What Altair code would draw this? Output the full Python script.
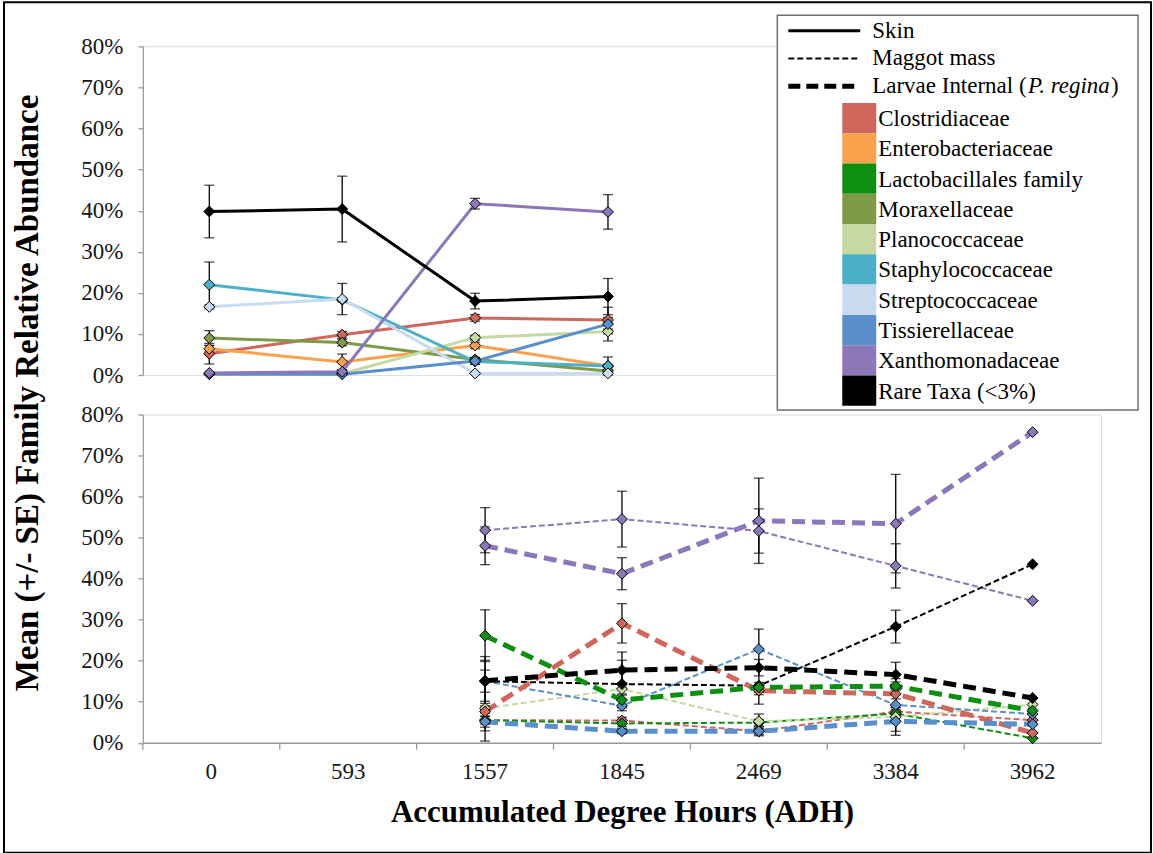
import altair as alt
import pandas as pd

# Accumulated degree hours (x categories)
ADH = ["0", "593", "1557", "1845", "2469", "3384", "3962"]
SKIN_ADH = ["0", "593", "1557", "1845"]
MASS_ADH = ["1557", "1845", "2469", "3384", "3962"]

FAMILIES = [
    "Clostridiaceae", "Enterobacteriaceae", "Lactobacillales family", "Moraxellaceae",
    "Planococcaceae", "Staphylococcaceae", "Streptococcaceae", "Tissierellaceae",
    "Xanthomonadaceae", "Rare Taxa (<3%)",
]
FAMILY_COLORS = [
    "#CF675D", "#F9A24E", "#0E8F12", "#7E9A48", "#C6D9A3",
    "#4CB0C9", "#C8DBF0", "#5A8FCB", "#8C77B8", "#000000",
]

# Skin: mean and SE (%) at 0, 593, 1557, 1845 ADH
skin_clostridiaceae = [5.2, 9.8, 13.9, 13.4]
skin_clostridiaceae_se = [2.5, 0.8, 0.8, 0.6]
skin_enterobacteriaceae = [6.4, 3.2, 7.2, 2.2]
skin_enterobacteriaceae_se = [0.8, 1.9, 0.8, 0.4]
skin_moraxellaceae = [9.0, 7.9, 3.8, 1.0]
skin_moraxellaceae_se = [1.8, 0.8, 0.5, 0.3]
skin_planococcaceae = [0.3, 0.3, 9.1, 10.6]
skin_planococcaceae_se = [0.0, 0.0, 0.6, 0.6]
skin_staphylococcaceae = [22.0, 18.3, 3.3, 2.2]
skin_staphylococcaceae_se = [5.5, 0.5, 0.6, 2.2]
skin_streptococcaceae = [16.6, 18.5, 0.4, 0.4]
skin_streptococcaceae_se = [0.5, 3.8, 0.1, 0.1]
skin_tissierellaceae = [0.2, 0.2, 3.4, 12.4]
skin_tissierellaceae_se = [0.1, 0.1, 0.8, 4.1]
skin_xanthomonadaceae = [0.5, 0.8, 41.7, 39.7]
skin_xanthomonadaceae_se = [0.2, 0.3, 1.3, 4.2]
skin_rare = [39.8, 40.4, 18.0, 19.1]
skin_rare_se = [6.4, 8.0, 1.9, 4.4]

# Maggot mass: mean and SE (%) at 1557 .. 3962 ADH
mass_clostridiaceae = [5.5, 5.4, 2.8, 7.6, 5.5]
mass_clostridiaceae_se = [1.0, 0.8, 0.8, 1.0, 0.0]
mass_lactobacillales = [5.5, 4.7, 4.9, 7.1, 1.1]
mass_lactobacillales_se = [2.6, 0.8, 0.8, 1.0, 0.0]
mass_planococcaceae = [8.4, 13.1, 5.2, 6.3, 9.3]
mass_planococcaceae_se = [1.2, 1.5, 1.8, 1.0, 0.0]
mass_tissierellaceae = [15.0, 9.0, 22.8, 9.2, 7.0]
mass_tissierellaceae_se = [2.7, 1.2, 4.9, 6.4, 0.0]
mass_xanthomonadaceae = [51.8, 54.5, 51.6, 43.1, 34.6]
mass_xanthomonadaceae_se = [5.5, 6.8, 5.4, 5.4, 0.0]
mass_rare = [15.0, 14.3, 13.9, 28.3, 43.5]
mass_rare_se = [6.0, 5.8, 4.5, 4.0, 0.0]

# Larvae internal (P. regina): mean and SE (%) at 1557 .. 3962 ADH
larvae_clostridiaceae = [7.6, 29.1, 12.7, 11.9, 2.4]
larvae_clostridiaceae_se = [7.2, 4.8, 1.0, 1.2, 0.0]
larvae_lactobacillales = [26.1, 10.4, 13.5, 13.8, 7.8]
larvae_lactobacillales_se = [6.3, 1.5, 1.2, 1.0, 0.0]
larvae_tissierellaceae = [5.1, 2.8, 2.8, 5.2, 4.5]
larvae_tissierellaceae_se = [1.3, 0.6, 1.1, 3.4, 0.0]
larvae_xanthomonadaceae = [48.0, 41.2, 54.1, 53.4, 75.7]
larvae_xanthomonadaceae_se = [4.6, 3.9, 10.4, 12.0, 0.0]
larvae_rare = [15.1, 17.7, 18.3, 16.6, 10.9]
larvae_rare_se = [5.0, 4.4, 2.0, 3.0, 0.0]

SKIN = [
    ("Clostridiaceae", skin_clostridiaceae, skin_clostridiaceae_se),
    ("Enterobacteriaceae", skin_enterobacteriaceae, skin_enterobacteriaceae_se),
    ("Moraxellaceae", skin_moraxellaceae, skin_moraxellaceae_se),
    ("Planococcaceae", skin_planococcaceae, skin_planococcaceae_se),
    ("Staphylococcaceae", skin_staphylococcaceae, skin_staphylococcaceae_se),
    ("Streptococcaceae", skin_streptococcaceae, skin_streptococcaceae_se),
    ("Tissierellaceae", skin_tissierellaceae, skin_tissierellaceae_se),
    ("Xanthomonadaceae", skin_xanthomonadaceae, skin_xanthomonadaceae_se),
    ("Rare Taxa (<3%)", skin_rare, skin_rare_se),
]
MASS = [
    ("Clostridiaceae", mass_clostridiaceae, mass_clostridiaceae_se),
    ("Lactobacillales family", mass_lactobacillales, mass_lactobacillales_se),
    ("Planococcaceae", mass_planococcaceae, mass_planococcaceae_se),
    ("Tissierellaceae", mass_tissierellaceae, mass_tissierellaceae_se),
    ("Xanthomonadaceae", mass_xanthomonadaceae, mass_xanthomonadaceae_se),
    ("Rare Taxa (<3%)", mass_rare, mass_rare_se),
]
LARVAE = [
    ("Clostridiaceae", larvae_clostridiaceae, larvae_clostridiaceae_se),
    ("Lactobacillales family", larvae_lactobacillales, larvae_lactobacillales_se),
    ("Tissierellaceae", larvae_tissierellaceae, larvae_tissierellaceae_se),
    ("Xanthomonadaceae", larvae_xanthomonadaceae, larvae_xanthomonadaceae_se),
    ("Rare Taxa (<3%)", larvae_rare, larvae_rare_se),
]


def long_table(adh, series):
    rows = []
    for fam, means, ses in series:
        for i, (a, m, s) in enumerate(zip(adh, means, ses)):
            rows.append({"family": fam, "adh": a, "step": i, "mean": m / 100,
                         "lo": (m - s) / 100, "hi": (m + s) / 100, "se": s})
    return pd.DataFrame(rows)


skin_df = long_table(SKIN_ADH, SKIN)
mass_df = long_table(MASS_ADH, MASS)
larvae_df = long_table(MASS_ADH, LARVAE)

FONT = "Liberation Serif"
AXIS_GRAY = "#9C9C9C"
TOP_W, TOP_H = 931, 329
BOT_W, BOT_H = 959, 328.5

fam_color = alt.Scale(domain=FAMILIES, range=FAMILY_COLORS)
y_scale = alt.Scale(domain=[0, 0.8], nice=False)
y_axis = alt.Axis(values=[i / 10 for i in range(9)], format=".0%", title=None, grid=False,
                  tickSize=5, labelPadding=15, labelFontSize=23, labelFont=FONT,
                  labelColor="#151515", domainColor=AXIS_GRAY, tickColor=AXIS_GRAY,
                  domainWidth=1.3, tickWidth=1.3)
x_scale = alt.Scale(type="band", domain=ADH, paddingInner=0, paddingOuter=0)
x_axis_bottom = alt.Axis(title="Accumulated Degree Hours (ADH)", ticks=False, labelAngle=0,
                         labelPadding=18, labelFontSize=23, labelFont=FONT, labelColor="#151515",
                         domainColor=AXIS_GRAY, domainWidth=1.3, titleFont=FONT,
                         titleFontSize=31, titleFontWeight="bold", titleColor="#000000",
                         titlePadding=14)


def data_layers(df, x_axis, dash, width):
    base = alt.Chart(df)
    x = alt.X("adh:N", scale=x_scale, axis=x_axis)
    y = alt.Y("mean:Q", scale=y_scale, axis=y_axis)
    line_kw = {"strokeWidth": width}
    if dash:
        line_kw["strokeDash"] = dash
    line = base.mark_line(**line_kw).encode(
        x=x, y=y,
        color=alt.Color("family:N", scale=fam_color, legend=None),
        order=alt.Order("step:Q"),
    )
    err = base.transform_filter("datum.se > 0")
    bars = err.mark_rule(color="black", strokeWidth=1.3).encode(
        x=x, y=alt.Y("lo:Q", scale=y_scale, axis=y_axis), y2="hi:Q")
    cap_lo = err.mark_tick(color="black", thickness=1.3, size=10, orient="horizontal").encode(
        x=x, y=alt.Y("lo:Q", scale=y_scale, axis=y_axis))
    cap_hi = err.mark_tick(color="black", thickness=1.3, size=10, orient="horizontal").encode(
        x=x, y=alt.Y("hi:Q", scale=y_scale, axis=y_axis))
    pts = base.mark_point(shape="diamond", filled=True, size=120, stroke="black",
                          strokeWidth=1, opacity=1).encode(
        x=x, y=y, fill=alt.Fill("family:N", scale=fam_color, legend=None))
    return line, [bars, cap_lo, cap_hi], pts


one = pd.DataFrame({"k": [0]})

# ---- top panel (skin) ----
s_line, s_err, s_pts = data_layers(skin_df, None, None, 3)

# legend, figure frame and shared y title are drawn in the top panel's pixel space
LX0 = 635
legend_box = alt.Chart(one).mark_rect(fill="white", stroke="#6E6E6E", strokeWidth=1.5).encode(
    x=alt.value(LX0), x2=alt.value(996), y=alt.value(-31), y2=alt.value(364))
frame = alt.Chart(one).mark_rect(fillOpacity=0, stroke="black", strokeWidth=2).encode(
    x=alt.value(-139), x2=alt.value(1009), y=alt.value(-44), y2=alt.value(807))
y_title = alt.Chart(one).mark_text(
    text="Mean (+/- SE) Family Relative Abundance", angle=270, font=FONT, fontSize=33,
    fontWeight="bold", align="center", baseline="middle", color="black").encode(
    x=alt.value(-115), y=alt.value(347))

legend_layers = [legend_box]
style_rows = [
    ("Skin", None, 3),
    ("Maggot mass", [6, 3], 2),
    ("Larvae Internal (", [12, 6], 5),
]
for i, (label, dash, w) in enumerate(style_rows):
    ypos = -15.7 + i * 27.8
    kw = {"color": "black", "strokeWidth": w}
    if dash:
        kw["strokeDash"] = dash
    legend_layers.append(alt.Chart(one).mark_rule(**kw).encode(
        x=alt.value(LX0 + 11), x2=alt.value(LX0 + 83), y=alt.value(ypos)))
    legend_layers.append(alt.Chart(one).mark_text(
        text=label, font=FONT, fontSize=23, align="left", baseline="middle", color="black").encode(
        x=alt.value(LX0 + 95), y=alt.value(ypos)))
# italic species name and closing parenthesis of the third entry
ylv = -15.7 + 2 * 27.8
legend_layers.append(alt.Chart(one).mark_text(
    text="P. regina", font=FONT, fontSize=23, fontStyle="italic", align="left",
    baseline="middle", color="black").encode(x=alt.value(LX0 + 251), y=alt.value(ylv)))
legend_layers.append(alt.Chart(one).mark_text(
    text=")", font=FONT, fontSize=23, align="left", baseline="middle", color="black").encode(
    x=alt.value(LX0 + 334), y=alt.value(ylv)))

SW_TOP, SW_H = 56.7, 30.3
for i, (fam, col) in enumerate(zip(FAMILIES, FAMILY_COLORS)):
    top = SW_TOP + i * SW_H
    legend_layers.append(alt.Chart(one).mark_rect(fill=col).encode(
        x=alt.value(LX0 + 65), x2=alt.value(LX0 + 99), y=alt.value(top), y2=alt.value(top + SW_H)))
    legend_layers.append(alt.Chart(one).mark_text(
        text=fam, font=FONT, fontSize=23, align="left", baseline="middle", color="black").encode(
        x=alt.value(LX0 + 101), y=alt.value(top + SW_H / 2 + 1)))

top_panel = alt.layer(
    s_line, *s_err, s_pts, frame, y_title, *legend_layers
).properties(width=TOP_W, height=TOP_H)

# ---- bottom panel (maggot mass and larvae internal) ----
m_line, m_err, m_pts = data_layers(mass_df, x_axis_bottom, [6, 3], 2)
l_line, l_err, l_pts = data_layers(larvae_df, x_axis_bottom, [13, 7], 5)

x_ticks = alt.Chart(pd.DataFrame({"adh": ADH})).mark_rule(color=AXIS_GRAY, strokeWidth=1.3).encode(
    x=alt.X("adh:N", scale=x_scale, axis=x_axis_bottom, bandPosition=0),
    y=alt.value(BOT_H), y2=alt.value(BOT_H + 7))

bottom_panel = alt.layer(
    m_line, l_line, *m_err, *l_err, m_pts, l_pts, x_ticks
).properties(width=BOT_W, height=BOT_H)

chart = alt.vconcat(top_panel, bottom_panel, spacing=39.5, bounds="flush").properties(
    padding={"left": 2, "top": 0, "right": 0, "bottom": 0}
).configure_view(stroke=None).configure(background="white").configure_axis(
    labelFont=FONT, titleFont=FONT, labelColor="#151515"
).configure_text(font=FONT)

chart.save("out.html", embed_options={"renderer": "svg", "actions": False})
